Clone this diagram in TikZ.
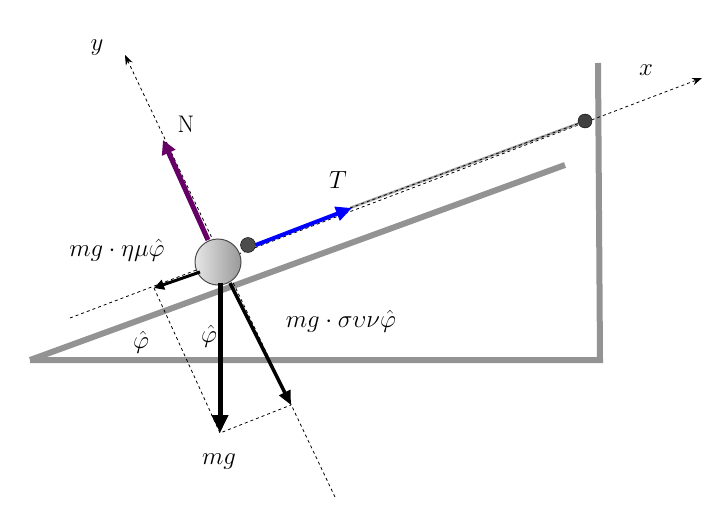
\documentclass[tikz,border=0pt]{standalone}
\usetikzlibrary{arrows.meta}
\begin{document}
\begin{tikzpicture}[x=1pt,y=-1pt,
  wall/.style={line width=6pt,color=gray!85},
  axis/.style={dashed,line width=0.8pt,-{Stealth[length=10pt]}},
  aux/.style={dashed,line width=0.8pt},
  lbl/.style={font=\fontsize{24}{26}\selectfont}]
\useasboundingbox (0,0) rectangle (714,513);
% ground and wall
\coordinate (g0) at (30,360);
\coordinate (g1) at (600,360);
\coordinate (w1) at (598,63);
\coordinate (i1) at (565,165);
\draw[wall,line join=miter] (g0) -- (g1) -- (w1);
\draw[wall] (g0) -- (i1);
% axes
\coordinate (xa) at (70,318);
\coordinate (xb) at (702,78);
\coordinate (ya) at (125,55);
\coordinate (yb) at (335,497);
\draw[axis] (xa) -- (xb);
\draw[axis] (yb) -- (ya);
\node[font=\fontsize{28}{30}\selectfont] (xl) at (646,70) {$x$};
\node[font=\fontsize{28}{30}\selectfont] (yl) at (97,48) {$y$};
% string
\coordinate (s0) at (350,208);
\node[circle,fill=black!75,draw=black,inner sep=0pt,minimum size=14pt] (pin) at (585,121) {};
\draw[gray!70,line width=2.5pt] (s0) -- (pin);
\draw[aux] (s0) -- (pin);
% ball
\node[circle,draw=black!70,line width=1pt,left color=gray!20,right color=gray!80,inner sep=0pt,minimum size=46pt] (ball) at (218,262) {};
\node[circle,fill=black!70,draw=black,inner sep=0pt,minimum size=15pt] (hook) at (248,245) {};
% forces
\coordinate (tT) at (352,208);
\draw[line width=4pt,blue,-{Triangle[length=16pt,width=14pt]}] (hook.east) -- (tT);
\node[font=\fontsize{30}{32}\selectfont] (Tl) at (338,180) {$T$};
\coordinate (nT) at (163,140);
\draw[line width=5pt,violet!80!black,-{Triangle[length=14pt,width=14pt]}] (208,240) -- (nT);
\node[font=\fontsize{24}{26}\selectfont] (Nl) at (186,124) {N};
\coordinate (fT) at (154,288);
\draw[line width=3pt,-{Triangle[length=10pt,width=10pt]}] (200,272) -- (fT);
\node[font=\fontsize{26}{28}\selectfont] (fl) at (117,250) {$mg\cdot\eta\mu\hat\varphi$};
\coordinate (mgT) at (220,433);
\draw[line width=5pt,-{Triangle[length=18pt,width=16pt]}] (220,283) -- (mgT);
\node[font=\fontsize{38}{40}\selectfont] (mgl) at (219,462) {$mg$};
\coordinate (cT) at (291,405);
\draw[line width=3.5pt,-{Triangle[length=14pt,width=12pt]}] (230,283) -- (cT);
\node[font=\fontsize{28}{30}\selectfont] (cl) at (341,321) {$mg\cdot\sigma\upsilon\nu\hat\varphi$};
% construction lines
\draw[aux] (fT) -- (mgT) -- (cT);
% angles
\node[lbl] (a1) at (141,342) {$\hat\varphi$};
\node[lbl] (a2) at (209,336) {$\hat\varphi$};
\end{tikzpicture}
\end{document}
